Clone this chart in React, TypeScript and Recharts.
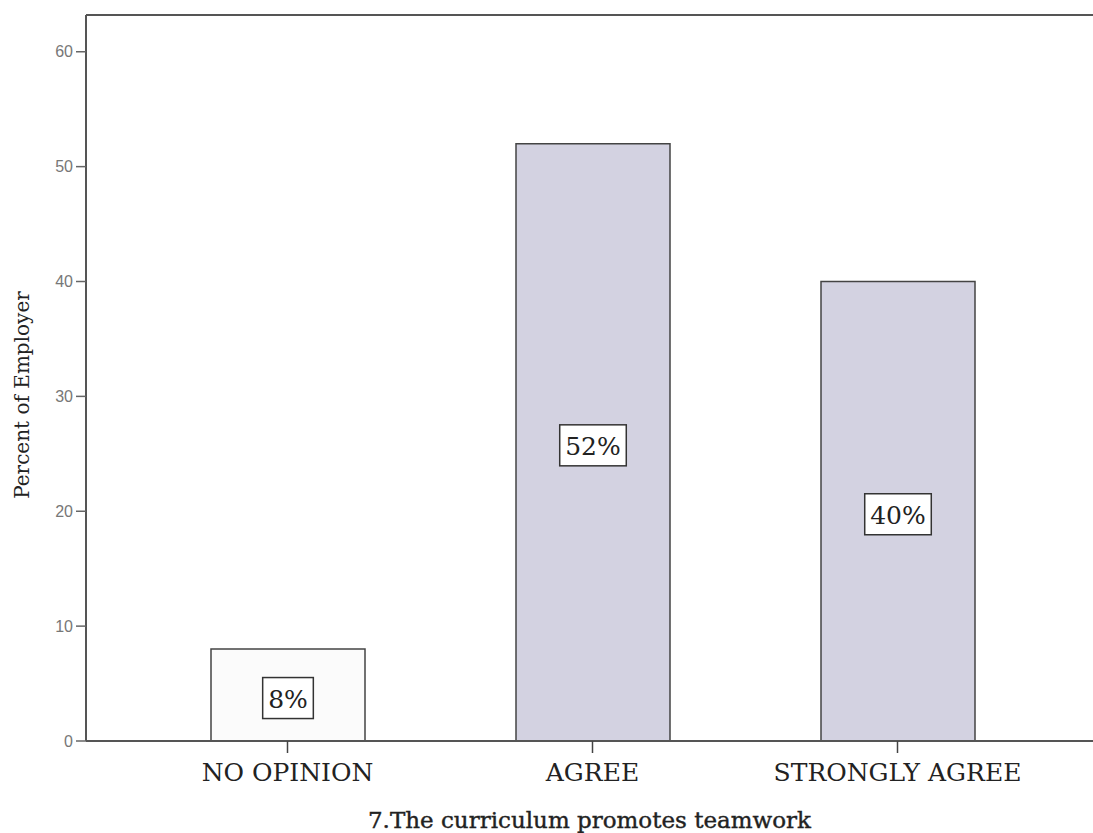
import { BarChart, Bar, XAxis, YAxis, Cell, LabelList, ReferenceLine, Label } from "recharts";

const categories = ["NO OPINION", "AGREE", "STRONGLY AGREE"];
const percents = [8, 52, 40];
const percentLabels = ["8%", "52%", "40%"];
const yTicks = [0, 10, 20, 30, 40, 50, 60];
const Y_MAX = 63.2;

const barFills = ["#fbfbfb", "#d3d2e1", "#d3d2e1"];

const rows = categories.map((c, i) => ({ name: c, value: percents[i], label: percentLabels[i] }));

const SERIF = "'DejaVu Serif', serif";
const SANS = "'Liberation Sans', Arial, sans-serif";

// white box with the percent, centred in the bar
function BoxLabel(props: any) {
  const { x, y, width, height, value } = props;
  const fs = 25;
  const textW = String(value)
    .split("")
    .reduce((w: number, ch: string) => w + (ch === "%" ? 0.95 : 0.636) * fs, 0);
  const bw = textW + 11;
  const bh = 41;
  const cx = x + width / 2;
  const cy = y + height / 2 + 3;
  return (
    <g>
      <rect x={cx - bw / 2} y={cy - bh / 2} width={bw} height={bh} fill="#fff" stroke="#333" strokeWidth={1.5} />
      <text x={cx} y={cy + 1} textAnchor="middle" dominantBaseline="central" fontFamily={SERIF} fontSize={fs} fill="#222">
        {value}
      </text>
    </g>
  );
}

function YTitle(props: any) {
  const vb = props.viewBox;
  const x = vb.x + 22;
  const y = vb.y + vb.height / 2 + 17;
  return (
    <text x={x} y={y} transform={`rotate(-90 ${x} ${y})`} textAnchor="middle" dominantBaseline="central"
      fontFamily={SERIF} fontSize={20} fill="#222">
      Percent of Employer
    </text>
  );
}

function XTitle(props: any) {
  const vb = props.viewBox;
  return (
    <text x={vb.x + vb.width / 2} y={vb.y + 87} textAnchor="middle" fontFamily={SERIF} fontSize={23}
      fill="#222" stroke="#222" strokeWidth={0.4}>
      7.The curriculum promotes teamwork
    </text>
  );
}

export default function App() {
  return (
    <div style={{ position: "absolute", left: 0, top: 0 }}>
      <BarChart width={1093} height={833} data={rows} margin={{ top: 15, right: 0, left: 0, bottom: 0 }}>
        <XAxis
          dataKey="name"
          height={92}
          padding={{ left: 49, right: 43 }}
          axisLine={{ stroke: "#555", strokeWidth: 2 }}
          tickLine={{ stroke: "#444", strokeWidth: 1.5 }}
          tickSize={12}
          tickMargin={10}
          tick={{ fontFamily: SERIF, fontSize: 25, fill: "#222" }}
          interval={0}
          label={<Label content={XTitle} />}
        />
        <YAxis
          width={86}
          domain={[0, Y_MAX]}
          ticks={yTicks}
          axisLine={{ stroke: "#555", strokeWidth: 2 }}
          tickLine={{ stroke: "#666", strokeWidth: 1.5 }}
          tickSize={10}
          tickMargin={3}
          tick={{ fontFamily: SANS, fontSize: 16, fill: "#777" }}
          label={<Label content={YTitle} />}
        />
        <ReferenceLine y={Y_MAX} stroke="#555" strokeWidth={2} />
        <Bar dataKey="value" barSize={154} stroke="#444" strokeWidth={1.5} isAnimationActive={false}>
          {rows.map((r, i) => (
            <Cell key={r.name} fill={barFills[i]} />
          ))}
          <LabelList dataKey="label" content={BoxLabel} />
        </Bar>
      </BarChart>
    </div>
  );
}
